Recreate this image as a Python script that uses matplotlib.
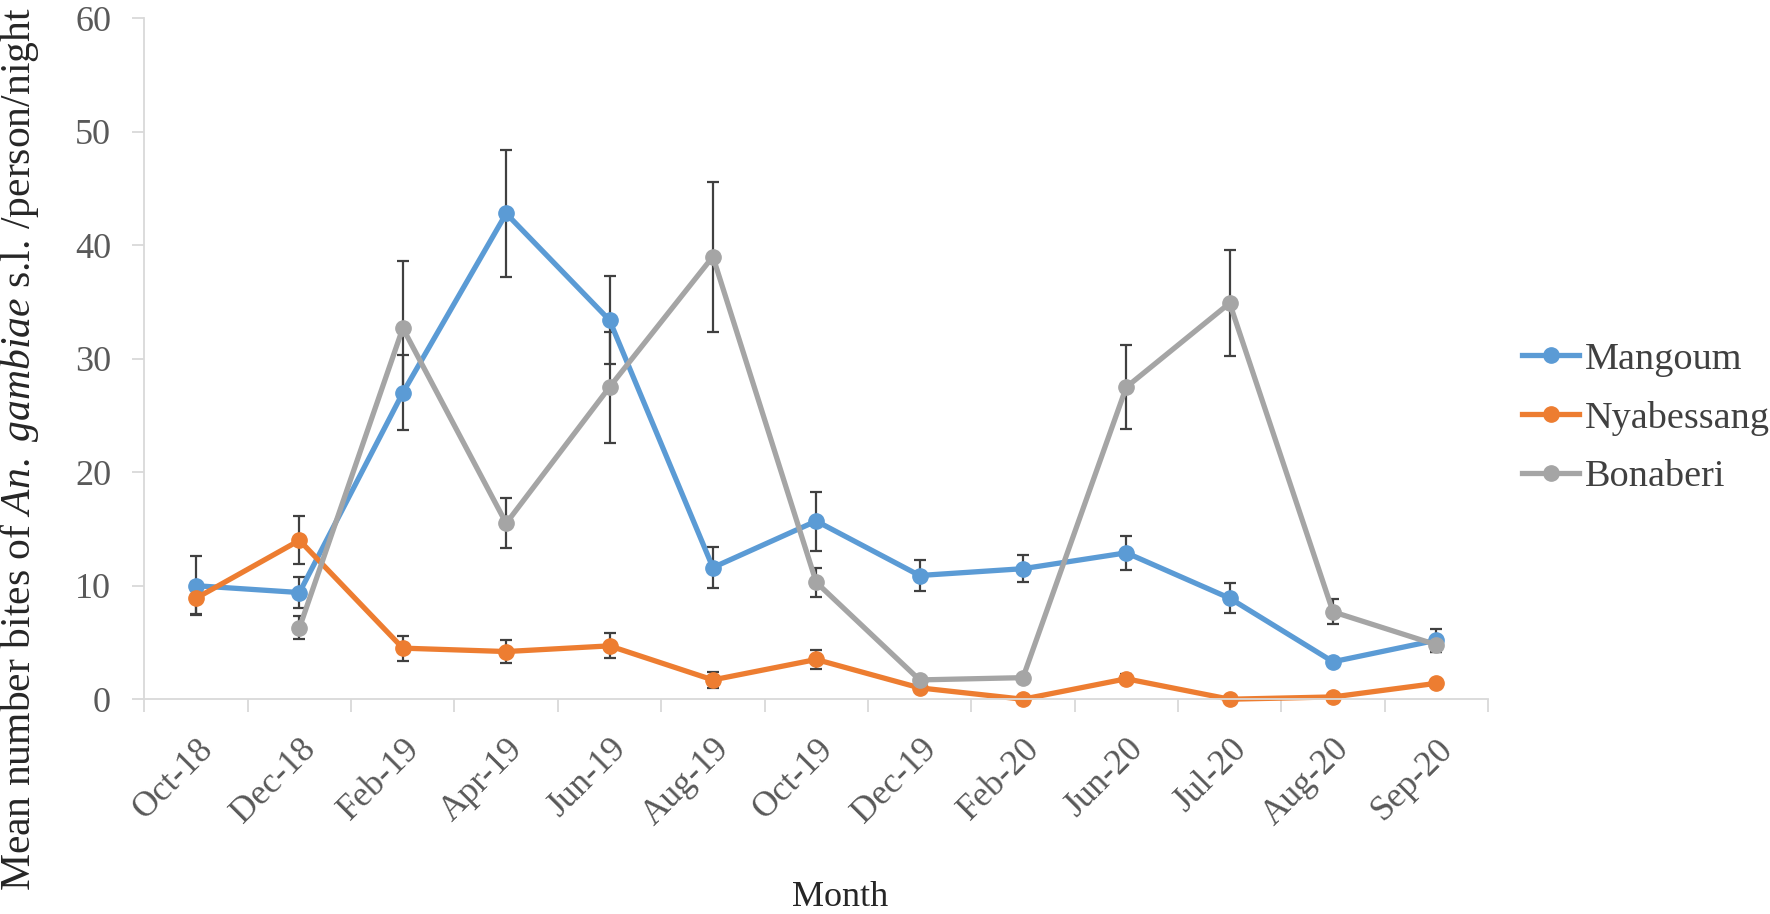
import numpy as np
import matplotlib
matplotlib.use("Agg")
import matplotlib.pyplot as plt

plt.rcParams['font.family'] = ['Liberation Serif', 'DejaVu Serif']
plt.rcParams['mathtext.fontset'] = 'custom'
plt.rcParams['mathtext.rm'] = 'Liberation Serif'
plt.rcParams['mathtext.it'] = 'Liberation Serif:italic'

months = ['Oct-18', 'Dec-18', 'Feb-19', 'Apr-19', 'Jun-19', 'Aug-19', 'Oct-19',
          'Dec-19', 'Feb-20', 'Jun-20', 'Jul-20', 'Aug-20', 'Sep-20']
mangoum = [10.0, 9.4, 27.0, 42.8, 33.4, 11.6, 15.7, 10.9, 11.5, 12.9, 8.9, 3.3, 5.2]
mangoum_err = [2.6, 1.4, 3.3, 5.6, 3.9, 1.8, 2.6, 1.4, 1.2, 1.5, 1.3, 0.3, 1.0]
nyabessang = [8.9, 14.0, 4.5, 4.2, 4.7, 1.7, 3.5, 1.0, 0.0, 1.8, 0.0, 0.2, 1.4]
nyabessang_err = [1.4, 2.1, 1.1, 1.0, 1.1, 0.7, 0.8, 0.2, 0.0, 0.4, 0.0, 0.1, 0.3]
bonaberi = [np.nan, 6.3, 32.7, 15.5, 27.5, 39.0, 10.3, 1.7, 1.9, 27.5, 34.9, 7.7, 4.8]
bonaberi_err = [np.nan, 1.0, 5.9, 2.2, 4.9, 6.6, 1.3, 0.2, 0.2, 3.7, 4.7, 1.1, 0.6]

series = [('Mangoum', mangoum, mangoum_err, '#5B9BD5'),
          ('Nyabessang', nyabessang, nyabessang_err, '#ED7D31'),
          ('Bonaberi', bonaberi, bonaberi_err, '#A5A5A5')]

fig = plt.figure(figsize=(17.7, 9.14), dpi=100)
ax = fig.add_axes([0.0816, 0.235, 0.7591, 0.745])

x = np.arange(len(months))
handles = []
for name, vals, err, col in series:
    h = ax.errorbar(x, vals, yerr=err, color=col, lw=3.8, marker='o', ms=11,
                    ecolor='#404040', elinewidth=1.6, capsize=4, capthick=1.6,
                    label=name, clip_on=False)
    handles.append(h[0])

ax.set_xlim(-0.5, len(months) - 0.5)
ax.set_ylim(0, 60)
ax.set_yticks(range(0, 61, 10))
ax.set_xticks(x)
ax.set_xticklabels(months, rotation=45, ha='right', rotation_mode='anchor')
ax.set_xticks(np.arange(-0.5, len(months), 1), minor=True)
ax.tick_params(axis='x', which='major', length=0, pad=24, labelsize=25.5, labelcolor='#595959')
ax.tick_params(axis='x', which='minor', length=9, width=1.3, color='#D9D9D9')
ax.tick_params(axis='y', length=9, width=1.3, color='#D9D9D9', pad=15,
               labelsize=26, labelcolor='#595959')

for s in ['top', 'right']:
    ax.spines[s].set_visible(False)
for s in ['left', 'bottom']:
    ax.spines[s].set_color('#D9D9D9')
    ax.spines[s].set_linewidth(1.3)

fig.text(20 / 1770, 1 - 449 / 914, r'Mean number bites of $\mathit{An.\ gambiae}$ s.l. /person/night',
         rotation=90, ha='center', va='center', fontsize=30, color='#262626')
fig.text(840 / 1770, 1 - 897 / 914, 'Month', ha='center', va='center',
         fontsize=26, color='#262626')

fig.legend(handles=handles, labels=[s[0] for s in series], loc='center left',
           bbox_to_anchor=(1522 / 1770, 1 - 418 / 914), frameon=False,
           fontsize=27.5, labelcolor='#404040', handlelength=1.5,
           handletextpad=0.15, labelspacing=0.62, borderaxespad=0, borderpad=0)

fig.savefig('out.png', dpi=100)
